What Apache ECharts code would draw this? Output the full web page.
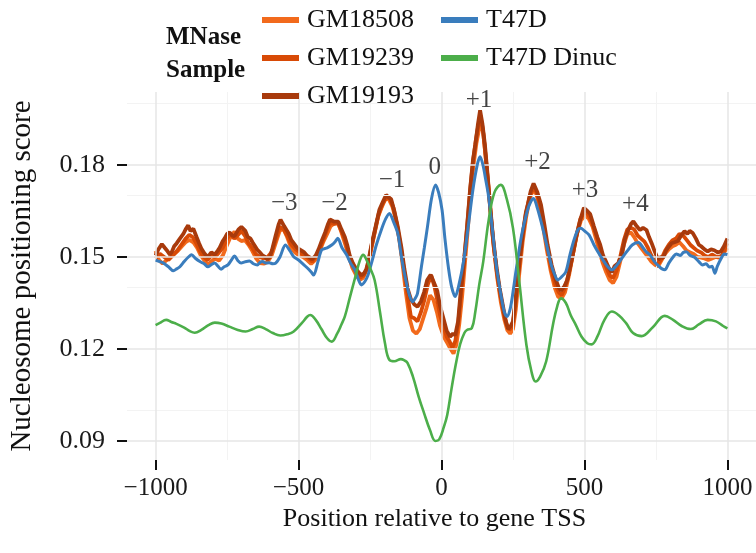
<!DOCTYPE html>
<html>
<head>
<meta charset="utf-8">
<title>Nucleosome positioning</title>
<script src="https://cdn.jsdelivr.net/npm/echarts@6/dist/echarts.min.js"></script>
<style>
  html, body { margin: 0; padding: 0; background: #fff; }
  #chart { width: 756px; height: 553px; }
</style>
</head>
<body>
<div id="chart"></div>
<script>
// position (bp from TSS), score
let gm18508 = [[-1000,0.1520],[-988,0.1490],[-975,0.1478],[-962,0.1490],[-948,0.1500],[-935,0.1510],[-922,0.1520],[-908,0.1535],[-895,0.1548],[-882,0.1556],[-868,0.1548],[-855,0.1530],[-842,0.1505],[-830,0.1490],[-817,0.1475],[-805,0.1485],[-792,0.1495],[-778,0.1488],[-765,0.1505],[-752,0.1535],[-738,0.1565],[-724,0.1583],[-712,0.1560],[-700,0.1552],[-688,0.1555],[-675,0.1540],[-662,0.1520],[-648,0.1495],[-635,0.1480],[-620,0.1478],[-608,0.1485],[-594,0.1505],[-580,0.1545],[-566,0.1585],[-554,0.1594],[-540,0.1565],[-526,0.1530],[-512,0.1515],[-498,0.1505],[-484,0.1500],[-470,0.1490],[-456,0.1478],[-442,0.1490],[-428,0.1515],[-414,0.1548],[-400,0.1575],[-388,0.1600],[-375,0.1610],[-362,0.1612],[-350,0.1580],[-338,0.1545],[-325,0.1505],[-312,0.1465],[-298,0.1440],[-286,0.1425],[-274,0.1432],[-262,0.1458],[-250,0.1505],[-236,0.1570],[-222,0.1630],[-208,0.1665],[-196,0.1690],[-184,0.1688],[-172,0.1665],[-160,0.1625],[-148,0.1560],[-136,0.1475],[-124,0.1380],[-112,0.1300],[-100,0.1260],[-88,0.1250],[-76,0.1265],[-64,0.1300],[-52,0.1335],[-40,0.1375],[-28,0.1360],[-16,0.1320],[-5,0.1275],[8,0.1240],[20,0.1220],[32,0.1200],[42,0.1185],[52,0.1215],[62,0.1280],[72,0.1370],[82,0.1480],[92,0.1590],[102,0.1710],[112,0.1800],[122,0.1870],[130,0.1910],[138,0.1935],[146,0.1905],[154,0.1830],[164,0.1730],[174,0.1620],[184,0.1520],[196,0.1425],[208,0.1350],[220,0.1295],[230,0.1262],[240,0.1250],[250,0.1265],[260,0.1330],[272,0.1445],[284,0.1550],[296,0.1630],[308,0.1690],[320,0.1718],[332,0.1705],[344,0.1660],[356,0.1595],[368,0.1525],[382,0.1455],[396,0.1400],[408,0.1370],[420,0.1365],[432,0.1385],[446,0.1440],[460,0.1510],[474,0.1575],[488,0.1620],[502,0.1635],[515,0.1625],[528,0.1600],[540,0.1560],[552,0.1520],[564,0.1480],[576,0.1450],[588,0.1425],[600,0.1415],[612,0.1435],[625,0.1485],[638,0.1540],[650,0.1575],[662,0.1580],[674,0.1565],[686,0.1545],[698,0.1530],[710,0.1515],[722,0.1500],[734,0.1485],[746,0.1475],[758,0.1470],[770,0.1490],[782,0.1510],[795,0.1525],[808,0.1535],[820,0.1540],[832,0.1548],[845,0.1535],[858,0.1520],[870,0.1515],[882,0.1510],[895,0.1500],[908,0.1498],[920,0.1495],[933,0.1490],[946,0.1495],[958,0.1500],[970,0.1498],[982,0.1505],[992,0.1520],[1000,0.1530]];

let gm19239 = [[-1000,0.1495],[-985,0.1510],[-970,0.1500],[-955,0.1490],[-940,0.1505],[-925,0.1520],[-910,0.1540],[-895,0.1560],[-882,0.1572],[-870,0.1565],[-858,0.1545],[-845,0.1520],[-832,0.1500],[-818,0.1490],[-805,0.1505],[-792,0.1500],[-778,0.1515],[-765,0.1530],[-750,0.1560],[-738,0.1575],[-725,0.1560],[-712,0.1572],[-700,0.1585],[-688,0.1570],[-675,0.1545],[-662,0.1530],[-650,0.1510],[-636,0.1500],[-622,0.1495],[-608,0.1500],[-595,0.1515],[-580,0.1555],[-566,0.1598],[-552,0.1590],[-540,0.1570],[-525,0.1540],[-510,0.1525],[-495,0.1515],[-480,0.1505],[-465,0.1495],[-452,0.1485],[-440,0.1500],[-428,0.1520],[-412,0.1560],[-400,0.1590],[-388,0.1612],[-375,0.1608],[-362,0.1610],[-350,0.1585],[-338,0.1555],[-325,0.1510],[-312,0.1475],[-298,0.1450],[-285,0.1432],[-272,0.1440],[-260,0.1462],[-248,0.1520],[-235,0.1575],[-220,0.1640],[-205,0.1675],[-192,0.1695],[-180,0.1690],[-168,0.1660],[-155,0.1600],[-142,0.1530],[-130,0.1450],[-118,0.1370],[-107,0.1305],[-95,0.1300],[-84,0.1290],[-72,0.1320],[-60,0.1360],[-48,0.1410],[-36,0.1440],[-25,0.1405],[-15,0.1360],[-5,0.1310],[8,0.1270],[18,0.1240],[28,0.1225],[38,0.1205],[48,0.1225],[58,0.1280],[68,0.1375],[78,0.1475],[89,0.1590],[100,0.1715],[110,0.1810],[120,0.1880],[128,0.1925],[136,0.1960],[144,0.1920],[152,0.1850],[162,0.1750],[172,0.1640],[182,0.1540],[195,0.1440],[207,0.1370],[218,0.1315],[228,0.1280],[237,0.1262],[248,0.1272],[258,0.1340],[270,0.1460],[282,0.1560],[295,0.1640],[308,0.1695],[320,0.1725],[332,0.1712],[345,0.1665],[358,0.1600],[370,0.1530],[384,0.1460],[398,0.1410],[410,0.1385],[420,0.1375],[432,0.1400],[445,0.1445],[458,0.1500],[472,0.1570],[486,0.1625],[500,0.1645],[512,0.1640],[525,0.1615],[538,0.1580],[550,0.1545],[562,0.1505],[575,0.1470],[588,0.1440],[600,0.1432],[612,0.1455],[625,0.1500],[638,0.1555],[650,0.1590],[662,0.1595],[674,0.1590],[686,0.1570],[698,0.1560],[710,0.1550],[722,0.1530],[734,0.1505],[746,0.1485],[758,0.1478],[770,0.1495],[782,0.1520],[795,0.1540],[808,0.1555],[820,0.1560],[832,0.1575],[845,0.1570],[858,0.1555],[870,0.1540],[882,0.1530],[895,0.1520],[908,0.1515],[920,0.1505],[933,0.1500],[946,0.1508],[958,0.1502],[970,0.1500],[982,0.1505],[992,0.1530],[1000,0.1545]];

let gm19193 = [[-1000,0.1505],[-990,0.1525],[-978,0.1542],[-968,0.1530],[-961,0.1522],[-950,0.1508],[-944,0.1515],[-935,0.1535],[-926,0.1545],[-915,0.1560],[-903,0.1575],[-895,0.1590],[-886,0.1603],[-878,0.1585],[-868,0.1592],[-857,0.1566],[-848,0.1545],[-840,0.1528],[-828,0.1510],[-817,0.1500],[-805,0.1515],[-793,0.1508],[-783,0.1520],[-776,0.1530],[-765,0.1552],[-759,0.1560],[-750,0.1575],[-741,0.1580],[-732,0.1570],[-724,0.1568],[-710,0.1590],[-700,0.1598],[-695,0.1602],[-686,0.1585],[-678,0.1566],[-668,0.1560],[-661,0.1548],[-652,0.1535],[-644,0.1523],[-635,0.1515],[-626,0.1505],[-617,0.1500],[-609,0.1492],[-600,0.1500],[-592,0.1525],[-580,0.1570],[-570,0.1605],[-563,0.1622],[-550,0.1600],[-540,0.1585],[-534,0.1575],[-525,0.1555],[-517,0.1545],[-505,0.1530],[-488,0.1520],[-480,0.1515],[-471,0.1505],[-460,0.1498],[-453,0.1492],[-440,0.1505],[-430,0.1525],[-418,0.1555],[-407,0.1580],[-398,0.1605],[-390,0.1622],[-375,0.1615],[-361,0.1615],[-350,0.1590],[-338,0.1565],[-330,0.1540],[-321,0.1505],[-310,0.1480],[-298,0.1460],[-290,0.1450],[-280,0.1440],[-270,0.1448],[-263,0.1460],[-255,0.1490],[-246,0.1535],[-235,0.1580],[-217,0.1655],[-205,0.1680],[-194,0.1702],[-185,0.1695],[-176,0.1688],[-165,0.1650],[-153,0.1600],[-140,0.1530],[-130,0.1462],[-118,0.1395],[-107,0.1362],[-95,0.1345],[-84,0.1338],[-72,0.1355],[-61,0.1385],[-50,0.1425],[-38,0.1442],[-28,0.1420],[-15,0.1390],[-5,0.1340],[8,0.1295],[18,0.1260],[30,0.1240],[40,0.1250],[48,0.1245],[58,0.1290],[66,0.1375],[78,0.1480],[89,0.1595],[100,0.1720],[110,0.1815],[118,0.1865],[127,0.1930],[135,0.1978],[143,0.1935],[152,0.1865],[160,0.1780],[170,0.1670],[180,0.1565],[193,0.1463],[205,0.1390],[216,0.1335],[225,0.1290],[233,0.1265],[242,0.1275],[250,0.1290],[260,0.1370],[273,0.1485],[285,0.1580],[295,0.1645],[302,0.1672],[312,0.1715],[322,0.1740],[335,0.1712],[348,0.1670],[360,0.1605],[371,0.1540],[385,0.1475],[400,0.1425],[410,0.1400],[418,0.1390],[430,0.1405],[440,0.1425],[455,0.1490],[470,0.1560],[485,0.1620],[498,0.1660],[510,0.1650],[520,0.1640],[533,0.1600],[545,0.1565],[555,0.1540],[565,0.1505],[573,0.1490],[585,0.1465],[596,0.1450],[605,0.1470],[618,0.1480],[631,0.1510],[642,0.1560],[654,0.1590],[663,0.1608],[671,0.1616],[683,0.1600],[694,0.1588],[705,0.1595],[717,0.1588],[726,0.1565],[735,0.1545],[745,0.1520],[758,0.1490],[765,0.1500],[775,0.1497],[785,0.1520],[792,0.1530],[805,0.1545],[815,0.1548],[827,0.1552],[838,0.1570],[850,0.1584],[860,0.1575],[868,0.1585],[879,0.1578],[890,0.1560],[900,0.1540],[908,0.1535],[920,0.1525],[931,0.1518],[943,0.1525],[954,0.1522],[966,0.1515],[977,0.1518],[988,0.1535],[1000,0.1560]];

let t47d = [[-1000,0.1490],[-985,0.1485],[-972,0.1480],[-955,0.1468],[-938,0.1455],[-925,0.1462],[-915,0.1468],[-900,0.1485],[-885,0.1500],[-874,0.1507],[-860,0.1495],[-845,0.1485],[-830,0.1478],[-817,0.1468],[-805,0.1475],[-793,0.1480],[-782,0.1470],[-771,0.1460],[-760,0.1468],[-747,0.1474],[-735,0.1490],[-724,0.1503],[-712,0.1488],[-701,0.1480],[-688,0.1484],[-672,0.1487],[-658,0.1478],[-644,0.1474],[-635,0.1482],[-626,0.1485],[-615,0.1480],[-603,0.1481],[-590,0.1478],[-580,0.1480],[-565,0.1500],[-546,0.1539],[-530,0.1520],[-517,0.1501],[-500,0.1490],[-488,0.1480],[-470,0.1465],[-455,0.1450],[-447,0.1441],[-432,0.1485],[-419,0.1523],[-400,0.1530],[-384,0.1539],[-372,0.1550],[-363,0.1561],[-348,0.1530],[-332,0.1507],[-318,0.1480],[-303,0.1458],[-290,0.1425],[-280,0.1409],[-268,0.1420],[-257,0.1441],[-242,0.1490],[-228,0.1539],[-210,0.1590],[-195,0.1625],[-182,0.1642],[-168,0.1615],[-153,0.1577],[-140,0.1500],[-125,0.1425],[-112,0.1375],[-101,0.1354],[-92,0.1365],[-84,0.1381],[-70,0.1470],[-60,0.1530],[-49,0.1599],[-35,0.1690],[-21,0.1735],[-10,0.1710],[2,0.1653],[12,0.1560],[25,0.1460],[36,0.1400],[48,0.1371],[60,0.1405],[77,0.1485],[95,0.1610],[110,0.1720],[125,0.1800],[135,0.1827],[145,0.1800],[155,0.1750],[164,0.1702],[178,0.1590],[193,0.1463],[210,0.1365],[220,0.1320],[229,0.1306],[240,0.1330],[250,0.1385],[262,0.1463],[280,0.1570],[300,0.1650],[312,0.1680],[322,0.1691],[335,0.1660],[354,0.1594],[370,0.1530],[385,0.1470],[397,0.1440],[406,0.1425],[420,0.1435],[435,0.1452],[450,0.1510],[465,0.1560],[478,0.1590],[487,0.1594],[500,0.1585],[516,0.1572],[533,0.1540],[550,0.1512],[565,0.1490],[580,0.1470],[596,0.1458],[610,0.1470],[631,0.1496],[650,0.1520],[668,0.1540],[689,0.1547],[705,0.1530],[718,0.1515],[729,0.1507],[745,0.1485],[760,0.1470],[770,0.1462],[781,0.1458],[795,0.1480],[810,0.1500],[821,0.1510],[835,0.1505],[846,0.1515],[856,0.1517],[870,0.1505],[885,0.1499],[900,0.1485],[913,0.1474],[925,0.1478],[937,0.1467],[946,0.1470],[956,0.1447],[965,0.1470],[978,0.1495],[989,0.1510],[1000,0.1508]];

let t47dDinuc = [[-1000,0.1278],[-985,0.1285],[-963,0.1295],[-945,0.1288],[-927,0.1282],[-900,0.1270],[-880,0.1258],[-863,0.1253],[-840,0.1262],[-815,0.1278],[-793,0.1286],[-770,0.1283],[-742,0.1273],[-715,0.1263],[-685,0.1257],[-660,0.1265],[-638,0.1273],[-615,0.1265],[-590,0.1252],[-564,0.1244],[-540,0.1248],[-517,0.1257],[-488,0.1285],[-470,0.1305],[-459,0.1311],[-440,0.1295],[-420,0.1265],[-400,0.1235],[-384,0.1224],[-365,0.1250],[-350,0.1280],[-338,0.1306],[-320,0.1370],[-300,0.1440],[-285,0.1490],[-274,0.1507],[-262,0.1490],[-250,0.1465],[-234,0.1425],[-215,0.1320],[-198,0.1220],[-182,0.1164],[-165,0.1160],[-142,0.1167],[-130,0.1163],[-119,0.1155],[-100,0.1110],[-80,0.1045],[-61,0.0991],[-40,0.0935],[-21,0.0900],[-8,0.0905],[8,0.0945],[20,0.0985],[35,0.1070],[50,0.1150],[65,0.1215],[80,0.1252],[89,0.1262],[106,0.1268],[118,0.1320],[132,0.1410],[146,0.1485],[165,0.1620],[185,0.1710],[207,0.1735],[228,0.1690],[250,0.1594],[272,0.1420],[297,0.1213],[315,0.1125],[329,0.1094],[345,0.1110],[366,0.1159],[390,0.1280],[405,0.1340],[418,0.1365],[435,0.1350],[452,0.1310],[470,0.1278],[490,0.1240],[510,0.1219],[525,0.1215],[545,0.1240],[570,0.1295],[596,0.1322],[620,0.1310],[645,0.1285],[670,0.1252],[700,0.1242],[740,0.1272],[781,0.1308],[810,0.1295],[840,0.1275],[872,0.1265],[900,0.1280],[931,0.1295],[960,0.1290],[985,0.1275],[1000,0.1267]];

let sampleNames = ['GM18508', 'GM19239', 'GM19193', 'T47D', 'T47D Dinuc'];
let sampleColors = ['#F26A1C', '#D84A06', '#A83A0C', '#3A7DBD', '#4CAE4A'];

let xTicks = [-1000, -500, 0, 500, 1000];
let yTicks = [0.09, 0.12, 0.15, 0.18];
let xMinor = [-750, -250, 250, 750];
let yMinor = [0.105, 0.135, 0.165, 0.195];

// nucleosome labels above the peaks
let peakLabels = ['\u22123', '\u22122', '\u22121', '0', '+1', '+2', '+3', '+4'];
let peakX = [-550, -374, -173, -24, 131, 336, 502, 678];
let peakY = [0.1676, 0.1676, 0.1751, 0.1793, 0.2012, 0.1807, 0.1718, 0.1670];

let serif = '"Liberation Serif", "DejaVu Serif", serif';

let chart = echarts.init(document.getElementById('chart'), null, { renderer: 'canvas' });

let lineData = [gm18508, gm19239, gm19193, t47d, t47dDinuc];
let widths = [3.8, 3.8, 3.8, 3, 2.6];
let smooths = [false, false, false, 0.3, 0.4];

// panel grid drawn as mark lines so nothing is added at the panel edges
let majorStyle = { type: 'solid', color: '#E6E6E6', width: 1.5 };
let minorStyle = { type: 'solid', color: '#F3F3F3', width: 1 };
let gridLines = []
  .concat(xMinor.map(v => ({ xAxis: v, lineStyle: minorStyle })))
  .concat(yMinor.map(v => ({ yAxis: v, lineStyle: minorStyle })))
  .concat(xTicks.map(v => ({ xAxis: v, lineStyle: majorStyle })))
  .concat(yTicks.map(v => ({ yAxis: v, lineStyle: majorStyle })));

let series = [
  {
    name: 'grid',
    type: 'line',
    data: [],
    silent: true,
    z: 0,
    markLine: {
      silent: true,
      symbol: ['none', 'none'],
      label: { show: false },
      animation: false,
      data: gridLines
    }
  }
];
for (let i = 0; i < sampleNames.length; i++) {
  series.push({
    name: sampleNames[i],
    type: 'line',
    data: lineData[i],
    showSymbol: false,
    smooth: smooths[i],
    z: 2 + i,
    lineStyle: { color: sampleColors[i], width: widths[i] },
    itemStyle: { color: sampleColors[i] }
  });
}
series.push({
  name: 'peaks',
  type: 'scatter',
  symbolSize: 0,
  z: 10,
  data: peakX.map((x, i) => [x, peakY[i], peakLabels[i]]),
  label: {
    show: true,
    position: 'inside',
    formatter: p => p.data[2],
    color: '#111',
    fontFamily: serif,
    fontSize: 25
  }
});

let legendText = { fontFamily: serif, fontSize: 26, color: '#111', lineHeight: 30, padding: [0, 0, 0, 3] };

chart.setOption({
  animation: false,
  backgroundColor: '#fff',
  title: {
    text: 'MNase\nSample',
    left: 161,
    top: 16,
    textStyle: { fontFamily: serif, fontWeight: 'bold', fontSize: 25, lineHeight: 33, color: '#111' }
  },
  legend: [
    {
      data: sampleNames.slice(0, 3),
      orient: 'vertical',
      left: 257,
      top: 0,
      z: 20,
      icon: 'rect',
      itemWidth: 37,
      itemHeight: 6,
      itemGap: 8,
      textStyle: legendText
    },
    {
      data: sampleNames.slice(3),
      orient: 'vertical',
      left: 436,
      top: 0,
      z: 20,
      icon: 'rect',
      itemWidth: 37,
      itemHeight: 6,
      itemGap: 8,
      textStyle: legendText
    }
  ],
  grid: { left: 123, top: 92, width: 636, height: 368, containLabel: false },
  xAxis: {
    type: 'value',
    min: -1100,
    max: 1100,
    name: 'Position relative to gene TSS',
    nameLocation: 'middle',
    nameGap: 38,
    nameTextStyle: { fontFamily: serif, fontSize: 26, color: '#111', padding: [0, 14, 0, 0] },
    axisLine: { show: false, onZero: false },
    axisTick: { show: true, length: 10, customValues: xTicks, lineStyle: { color: '#111', width: 2 } },
    axisLabel: {
      customValues: xTicks,
      margin: 16,
      fontFamily: serif,
      fontSize: 25,
      color: '#1a1a1a',
      formatter: v => String(v).replace('-', '\u2212')
    },
    splitLine: { show: false }
  },
  yAxis: {
    type: 'value',
    min: 0.0838,
    max: 0.2038,
    name: 'Nucleosome positioning score',
    nameLocation: 'middle',
    nameGap: 90,
    nameTextStyle: { fontFamily: serif, fontSize: 29, color: '#111' },
    axisLine: { show: false, onZero: false },
    axisTick: { show: true, length: 10, customValues: yTicks, lineStyle: { color: '#111', width: 2 } },
    axisLabel: {
      customValues: yTicks,
      margin: 22,
      fontFamily: serif,
      fontSize: 26,
      color: '#1a1a1a',
      formatter: v => v.toFixed(2)
    },
    splitLine: { show: false }
  },
  series: series
});
</script>
</body>
</html>
